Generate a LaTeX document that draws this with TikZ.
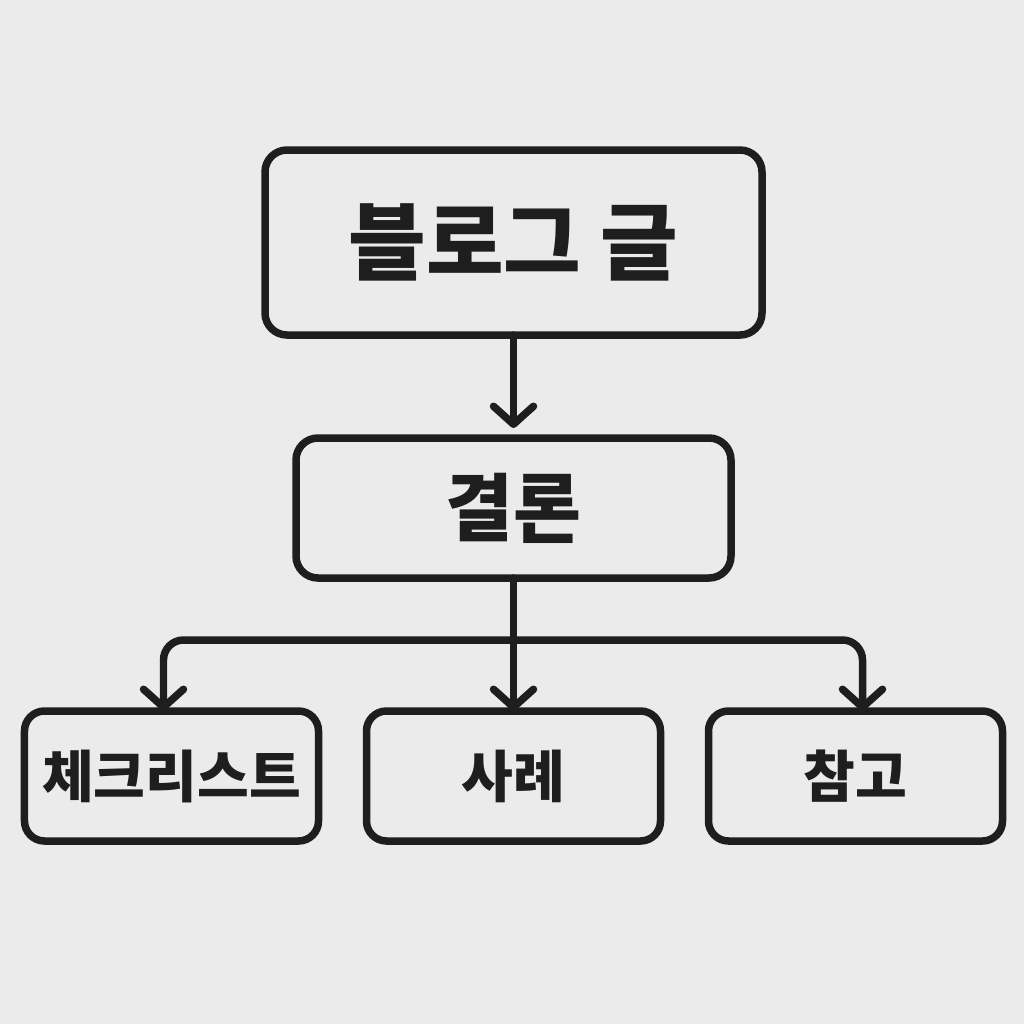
\documentclass[tikz,border=0pt]{standalone}
\usepackage{fontspec}
\setmainfont{Noto Sans CJK KR}[BoldFont={Noto Sans CJK KR Black}]
\usepackage{tikz}
\usetikzlibrary{arrows.meta,positioning,calc}
\definecolor{cInk}{HTML}{1E1E1E}
\definecolor{cPaper}{HTML}{EBEBEB}
\tikzset{
  box/.style={rounded corners=0.44cm, draw=cInk, line width=0.15cm, fill=cPaper,
              text=cInk, align=center, inner sep=0pt, outer sep=0pt},
  topbox/.style={box, minimum width=9.94cm, minimum height=3.7cm,
              font=\fontsize{48}{52}\selectfont\bfseries},
  midbox/.style={box, minimum width=8.7cm, minimum height=2.8cm,
              font=\fontsize{42}{46}\selectfont\bfseries},
  leaf/.style={box, rounded corners=0.4cm, minimum width=5.88cm, minimum height=2.6cm,
              font=\fontsize{32}{36}\selectfont\bfseries},
  flow/.style={-{Straight Barb[length=0.36cm, width=0.8cm, round]},
              line width=0.15cm, draw=cInk, line cap=round},
}

\begin{document}
\begin{tikzpicture}[node distance=2.66cm and 0.96cm]
  \useasboundingbox[fill=cPaper] (0,0) rectangle (20.48,-20.48);

  % main post and its conclusion
  \node[topbox] (blog) at (10.27,-4.85) {블로그 글};
  \node[midbox, below=2.06cm of blog] (concl) {결론};

  % three parts of the conclusion
  \node[leaf, below=of concl] (case) {사례};
  \node[leaf, left=of case] (check) {체크리스트};
  \node[leaf, right=of case] (ref) {참고};

  \coordinate[below=1.24cm of concl] (split);

  \draw[flow, shorten >=0.2cm] (blog.south) -- (concl.north);
  \draw[flow] (concl.south) -- (case.north);
  \draw[flow, rounded corners=0.4cm] (split) -| ($(check.north)+(-0.16,0)$);
  \draw[flow, rounded corners=0.4cm] (split) -| ($(ref.north)+(0.14,0)$);
\end{tikzpicture}
\end{document}
